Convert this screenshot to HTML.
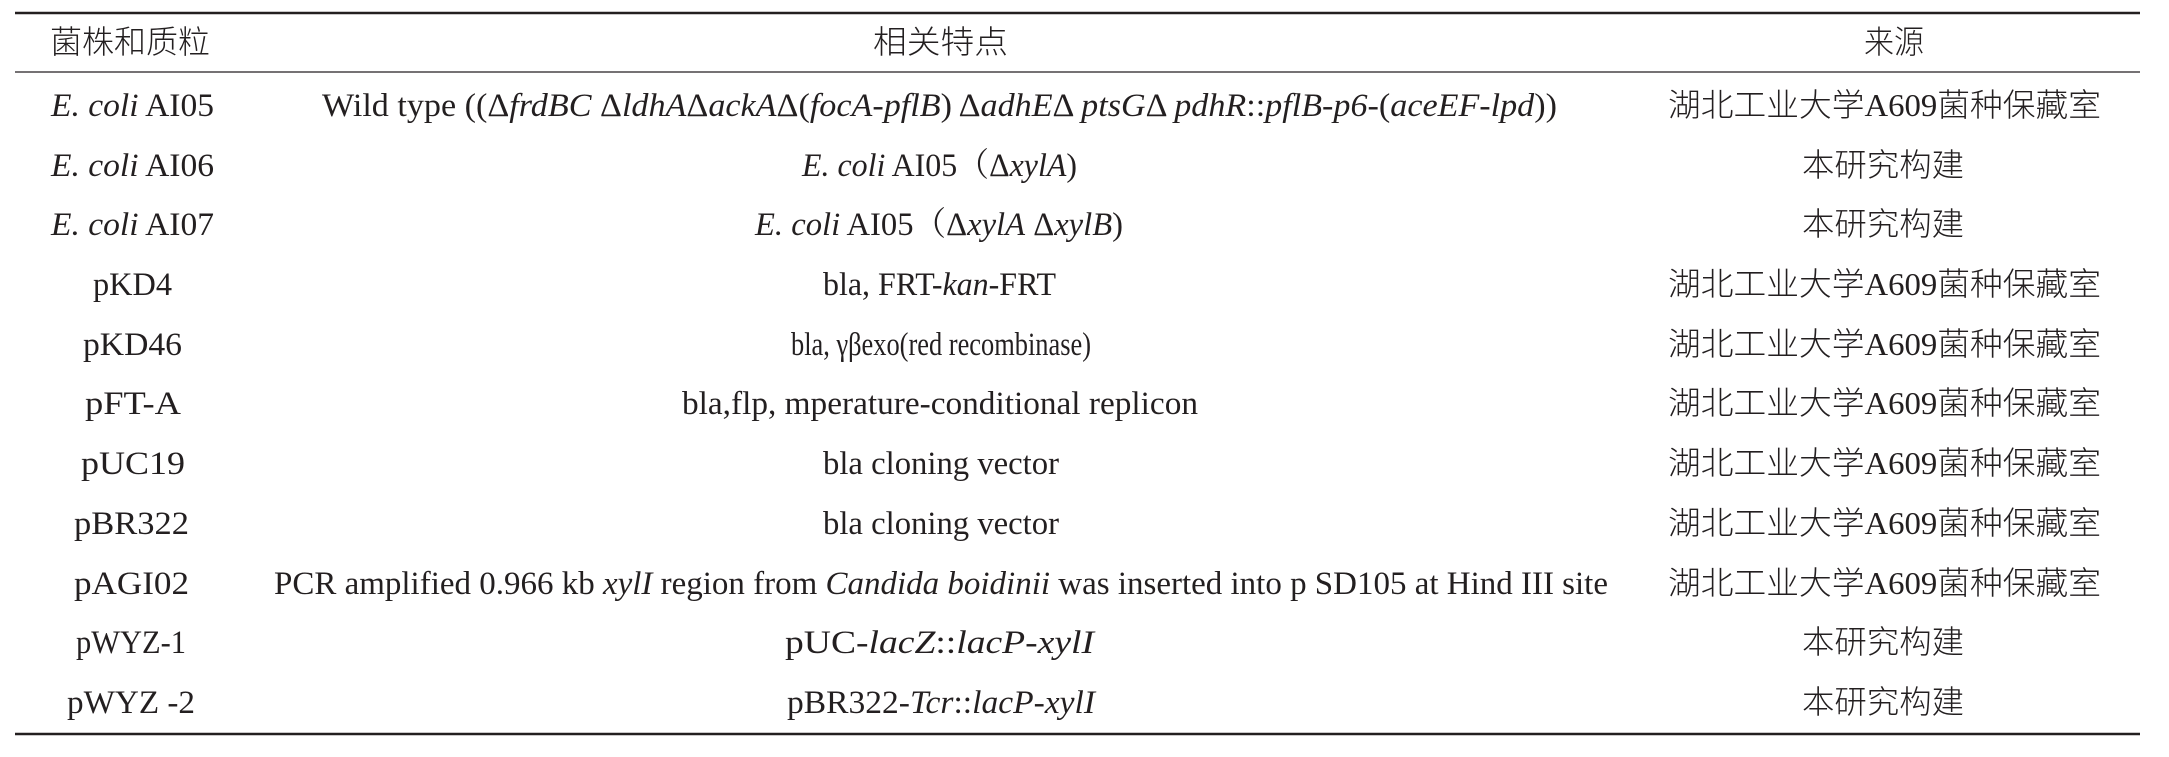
<!DOCTYPE html>
<html><head><meta charset="utf-8"><style>
html,body{margin:0;padding:0;background:#fff;}
svg{display:block;}
text{font-family:"Liberation Serif","Noto Serif CJK SC",serif;font-size:33px;fill:#231f20;}
.cj{font-family:"Liberation Serif","Noto Sans CJK SC",sans-serif;font-weight:300;font-size:32px;}
.i{font-style:italic;}
</style></head><body>
<svg width="2169" height="757" viewBox="0 0 2169 757" xmlns="http://www.w3.org/2000/svg">
<rect width="2169" height="757" fill="#fff"/>
<line x1="15" y1="13" x2="2140" y2="13" stroke="#231f20" stroke-width="2.5"/>
<line x1="15" y1="72" x2="2140" y2="72" stroke="#231f20" stroke-width="1.2"/>
<line x1="15" y1="734" x2="2140" y2="734" stroke="#231f20" stroke-width="2.5"/>

<text class="cj" x="50" y="53" textLength="160" lengthAdjust="spacingAndGlyphs">菌株和质粒</text>
<text class="cj" x="873" y="53" textLength="135" lengthAdjust="spacingAndGlyphs">相关特点</text>
<text class="cj" x="1864" y="53" textLength="60" lengthAdjust="spacingAndGlyphs">来源</text>

<g>
<text x="51" y="116" textLength="163" lengthAdjust="spacingAndGlyphs"><tspan class="i">E. coli</tspan> AI05</text>
<text x="51" y="176" textLength="163" lengthAdjust="spacingAndGlyphs"><tspan class="i">E. coli</tspan> AI06</text>
<text x="51" y="235" textLength="163" lengthAdjust="spacingAndGlyphs"><tspan class="i">E. coli</tspan> AI07</text>
<text x="93" y="295" textLength="79" lengthAdjust="spacingAndGlyphs">pKD4</text>
<text x="83" y="355" textLength="99" lengthAdjust="spacingAndGlyphs">pKD46</text>
<text x="85" y="414" textLength="96" lengthAdjust="spacingAndGlyphs">pFT-A</text>
<text x="81" y="474" textLength="104" lengthAdjust="spacingAndGlyphs">pUC19</text>
<text x="74" y="534" textLength="115" lengthAdjust="spacingAndGlyphs">pBR322</text>
<text x="74" y="594" textLength="115" lengthAdjust="spacingAndGlyphs">pAGI02</text>
<text x="76" y="653" textLength="110" lengthAdjust="spacingAndGlyphs">pWYZ-1</text>
<text x="67" y="713" textLength="128" lengthAdjust="spacingAndGlyphs">pWYZ -2</text>
</g>

<g>
<text x="322" y="116" textLength="1235" lengthAdjust="spacingAndGlyphs">Wild type ((Δ<tspan class="i">frdBC</tspan> Δ<tspan class="i">ldhA</tspan>Δ<tspan class="i">ackA</tspan>Δ(<tspan class="i">focA-pflB</tspan>) Δ<tspan class="i">adhE</tspan>Δ <tspan class="i">ptsG</tspan>Δ <tspan class="i">pdhR</tspan>::<tspan class="i">pflB-p6-</tspan>(<tspan class="i">aceEF-lpd</tspan>))</text>
<text x="802" y="176" textLength="275" lengthAdjust="spacingAndGlyphs"><tspan class="i">E. coli</tspan> AI05（Δ<tspan class="i">xylA</tspan>)</text>
<text x="755" y="235" textLength="368" lengthAdjust="spacingAndGlyphs"><tspan class="i">E. coli</tspan> AI05（Δ<tspan class="i">xylA</tspan> Δ<tspan class="i">xylB</tspan>)</text>
<text x="823" y="295" textLength="233" lengthAdjust="spacingAndGlyphs">bla, FRT-<tspan class="i">kan</tspan>-FRT</text>
<text x="791" y="355" textLength="300" lengthAdjust="spacingAndGlyphs">bla, γβexo(red recombinase)</text>
<text x="682" y="414" textLength="516" lengthAdjust="spacingAndGlyphs">bla,flp, mperature-conditional replicon</text>
<text x="823" y="474" textLength="236" lengthAdjust="spacingAndGlyphs">bla cloning vector</text>
<text x="823" y="534" textLength="236" lengthAdjust="spacingAndGlyphs">bla cloning vector</text>
<text x="274" y="594" textLength="1334" lengthAdjust="spacingAndGlyphs">PCR amplified 0.966 kb <tspan class="i">xylI</tspan> region from <tspan class="i">Candida boidinii</tspan> was inserted into p SD105 at Hind III site</text>
<text x="785" y="653" textLength="309" lengthAdjust="spacingAndGlyphs">pUC-<tspan class="i">lacZ</tspan>::<tspan class="i">lacP-xylI</tspan></text>
<text x="787" y="713" textLength="308" lengthAdjust="spacingAndGlyphs">pBR322-<tspan class="i">Tcr</tspan>::<tspan class="i">lacP-xylI</tspan></text>
</g>

<g>
<text class="cj" x="1668" y="116" textLength="433" lengthAdjust="spacingAndGlyphs">湖北工业大学A609菌种保藏室</text>
<text class="cj" x="1802" y="176" textLength="162" lengthAdjust="spacingAndGlyphs">本研究构建</text>
<text class="cj" x="1802" y="235" textLength="162" lengthAdjust="spacingAndGlyphs">本研究构建</text>
<text class="cj" x="1668" y="295" textLength="433" lengthAdjust="spacingAndGlyphs">湖北工业大学A609菌种保藏室</text>
<text class="cj" x="1668" y="355" textLength="433" lengthAdjust="spacingAndGlyphs">湖北工业大学A609菌种保藏室</text>
<text class="cj" x="1668" y="414" textLength="433" lengthAdjust="spacingAndGlyphs">湖北工业大学A609菌种保藏室</text>
<text class="cj" x="1668" y="474" textLength="433" lengthAdjust="spacingAndGlyphs">湖北工业大学A609菌种保藏室</text>
<text class="cj" x="1668" y="534" textLength="433" lengthAdjust="spacingAndGlyphs">湖北工业大学A609菌种保藏室</text>
<text class="cj" x="1668" y="594" textLength="433" lengthAdjust="spacingAndGlyphs">湖北工业大学A609菌种保藏室</text>
<text class="cj" x="1802" y="653" textLength="162" lengthAdjust="spacingAndGlyphs">本研究构建</text>
<text class="cj" x="1802" y="713" textLength="162" lengthAdjust="spacingAndGlyphs">本研究构建</text>
</g>
</svg>
</body></html>
